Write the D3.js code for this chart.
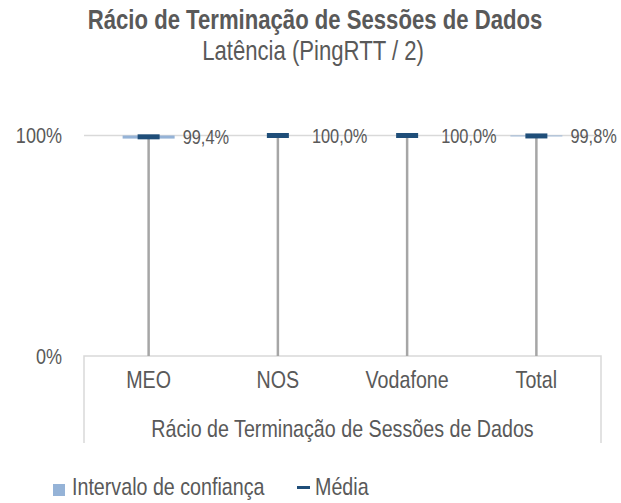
<!DOCTYPE html>
<html>
<head>
<meta charset="utf-8">
<script src="https://cdn.jsdelivr.net/npm/d3@7"></script>
<style>
  body { margin: 0; background: #fff; }
  svg text { font-family: "Liberation Sans Narrow", "Arial Narrow", "Liberation Sans", Arial, sans-serif; fill: #595959; }
</style>
</head>
<body>
<div id="chart"></div>
<script>
(function () {
  'use strict';

  var categories = ['MEO', 'NOS', 'Vodafone', 'Total'];
  var meanValues = [99.4, 100.0, 100.0, 99.8];
  var ciLower = [98.6, 100.0, 100.0, 99.6];
  var ciUpper = [100.0, 100.0, 100.0, 100.0];
  var yTicks = [0, 100];
  var axisTitle = 'Rácio de Terminação de Sessões de Dados';
  var seriesNames = ['Intervalo de confiança', 'Média'];

  var width = 621, height = 503;
  var plot = { left: 84, right: 601, top: 135.5, bottom: 356, boxBottom: 443 };
  var colors = { ci: '#95b3d7', mean: '#1f4e79', whisker: '#a6a6a6', grid: '#d9d9d9' };
  var squeeze = 0.82; // no narrow font installed: compress the regular one

  var pt = d3.formatLocale({ decimal: ',', thousands: '.', grouping: [3], currency: ['', '€'] });
  var fmtLabel = pt.format('.1f');

  var data = categories.map(function (c, i) {
    return { name: c, mean: meanValues[i], lo: ciLower[i], hi: ciUpper[i] };
  });

  // turn x/y of each text into a transform with a horizontal squeeze
  function narrow(selection) {
    selection.each(function () {
      var t = d3.select(this);
      var tx = +t.attr('x') || 0, ty = +t.attr('y') || 0;
      t.attr('x', 0).attr('y', 0)
        .attr('transform', 'translate(' + tx + ',' + ty + ') scale(' + squeeze + ',1)');
    });
  }

  var svg = d3.select('#chart').append('svg')
    .attr('width', width)
    .attr('height', height);

  var x = d3.scaleBand()
    .domain(categories)
    .range([plot.left, plot.right]);

  var y = d3.scaleLinear()
    .domain([0, 100])
    .range([plot.bottom, plot.top]);

  // titles
  svg.append('text')
    .attr('x', 315).attr('y', 29)
    .attr('text-anchor', 'middle')
    .style('font-size', '27px')
    .style('font-weight', 'bold')
    .text('Rácio de Terminação de Sessões de Dados')
    .call(narrow);

  svg.append('text')
    .attr('x', 313).attr('y', 60)
    .attr('text-anchor', 'middle')
    .style('font-size', '27px')
    .text('Latência (PingRTT / 2)')
    .call(narrow);

  // gridline at 100%
  svg.append('g').selectAll('line')
    .data(yTicks.filter(function (t) { return t > 0; }))
    .enter().append('line')
    .attr('x1', plot.left).attr('x2', plot.right)
    .attr('y1', function (d) { return y(d); })
    .attr('y2', function (d) { return y(d); })
    .attr('stroke', colors.grid)
    .attr('stroke-width', 1.5);

  // y axis labels
  var yAxis = svg.append('g')
    .attr('transform', 'translate(' + plot.left + ',0)')
    .call(d3.axisLeft(y).tickValues(yTicks).tickSize(0).tickPadding(22)
      .tickFormat(function (d) { return d + '%'; }));
  yAxis.select('.domain').remove();
  yAxis.selectAll('text')
    .attr('dy', '0.34em')
    .style('font-size', '22px')
    .call(narrow);

  // category axis box (multi-level style)
  svg.append('path')
    .attr('d', 'M' + plot.left + ',' + plot.boxBottom + 'V' + plot.bottom +
      'H' + plot.right + 'V' + plot.boxBottom)
    .attr('fill', 'none')
    .attr('stroke', colors.grid)
    .attr('stroke-width', 1.5);

  var xAxis = svg.append('g')
    .attr('transform', 'translate(0,' + plot.bottom + ')')
    .call(d3.axisBottom(x).tickSize(0).tickPadding(20));
  xAxis.select('.domain').remove();
  xAxis.selectAll('text')
    .attr('dy', '0.5em')
    .style('font-size', '24px')
    .call(narrow);

  svg.append('text')
    .attr('x', (plot.left + plot.right) / 2)
    .attr('y', 437)
    .attr('text-anchor', 'middle')
    .style('font-size', '24px')
    .text(axisTitle)
    .call(narrow);

  // whiskers from mean down to 0%
  svg.append('g').selectAll('line')
    .data(data)
    .enter().append('line')
    .attr('x1', function (d) { return x(d.name) + x.bandwidth() / 2; })
    .attr('x2', function (d) { return x(d.name) + x.bandwidth() / 2; })
    .attr('y1', function (d) { return y(d.mean); })
    .attr('y2', y(0))
    .attr('stroke', colors.whisker)
    .attr('stroke-width', 2.5);

  // confidence interval bands
  svg.append('g').selectAll('rect')
    .data(data)
    .enter().append('rect')
    .attr('x', function (d) { return x(d.name) + x.bandwidth() / 2 - 26; })
    .attr('width', 52)
    .attr('y', function (d) { return y(d.hi); })
    .attr('height', function (d) { return y(d.lo) - y(d.hi); })
    .attr('fill', colors.ci);

  // mean markers
  svg.append('g').selectAll('rect')
    .data(data)
    .enter().append('rect')
    .attr('x', function (d) { return x(d.name) + x.bandwidth() / 2 - 11; })
    .attr('width', 22)
    .attr('y', function (d) { return y(d.mean) - 2.5; })
    .attr('height', 5)
    .attr('fill', colors.mean);

  // data labels
  svg.append('g').selectAll('text')
    .data(data)
    .enter().append('text')
    .attr('x', function (d) { return x(d.name) + x.bandwidth() / 2 + 34; })
    .attr('y', function (d) { return y(d.mean); })
    .attr('dy', '0.36em')
    .style('font-size', '20px')
    .text(function (d) { return fmtLabel(d.mean) + '%'; })
    .call(narrow);

  // legend
  var legend = svg.append('g');
  legend.append('rect')
    .attr('x', 53).attr('y', 484)
    .attr('width', 12).attr('height', 12)
    .attr('fill', colors.ci);
  legend.append('text')
    .attr('x', 72).attr('y', 495)
    .style('font-size', '24px')
    .text(seriesNames[0])
    .call(narrow);
  legend.append('line')
    .attr('x1', 297).attr('x2', 310)
    .attr('y1', 487.5).attr('y2', 487.5)
    .attr('stroke', colors.mean)
    .attr('stroke-width', 3);
  legend.append('text')
    .attr('x', 315).attr('y', 495)
    .style('font-size', '24px')
    .text(seriesNames[1])
    .call(narrow);
}());
</script>
</body>
</html>
